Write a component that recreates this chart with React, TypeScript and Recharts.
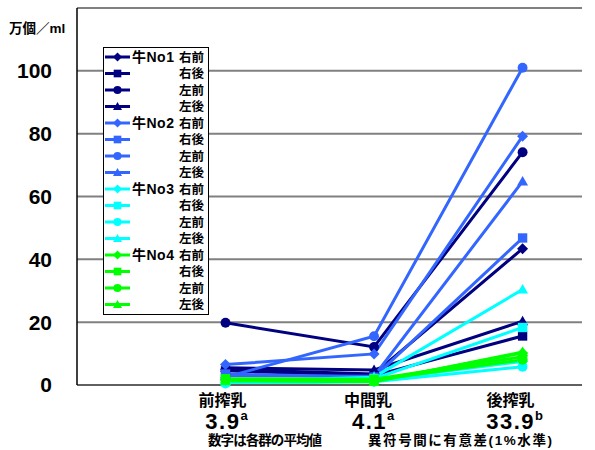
import { LineChart, Line, XAxis, YAxis, CartesianGrid, Legend, Label } from "recharts";

// categories on the x axis, with the group mean and significance letter
const categories = ["前搾乳", "中間乳", "後搾乳"];
const categoryX = [1, 2, 3];
const categoryMeans = ["3.9", "4.1", "33.9"];
const categorySig = ["a", "a", "b"];
const yTicks = [0, 20, 40, 60, 80, 100, 120];

const cows = ["牛No1", "牛No2", "牛No3", "牛No4"];
const quarters = ["右前", "右後", "左前", "左後"];

// 万個/ml, per cow and quarter: 前搾乳, 中間乳, 後搾乳
const no1RightFront = [5.0, 3.5, 43.4];
const no1RightRear = [4.5, 3.0, 15.6];
const no1LeftFront = [19.8, 12.1, 74.1];
const no1LeftRear = [5.5, 4.8, 20.3];
const no2RightFront = [6.5, 9.9, 79.2];
const no2RightRear = [3.5, 2.5, 46.8];
const no2LeftFront = [2.5, 15.5, 101];
const no2LeftRear = [3.0, 2.8, 64.8];
const no3RightFront = [0.8, 1.5, 7.5];
const no3RightRear = [1.0, 2.0, 18.3];
const no3LeftFront = [0.5, 1.0, 5.8];
const no3LeftRear = [1.2, 2.5, 30.4];
const no4RightFront = [1.5, 1.2, 10.2];
const no4RightRear = [2.0, 1.8, 9.0];
const no4LeftFront = [1.8, 1.5, 8.0];
const no4LeftRear = [1.3, 1.0, 10.5];

const seriesValues = [
  [no1RightFront, no1RightRear, no1LeftFront, no1LeftRear],
  [no2RightFront, no2RightRear, no2LeftFront, no2LeftRear],
  [no3RightFront, no3RightRear, no3LeftFront, no3LeftRear],
  [no4RightFront, no4RightRear, no4LeftFront, no4LeftRear],
];

const COW_COLORS = ["#000080", "#3366FF", "#00FFFF", "#00FF00"];
const QUARTER_SHAPES = ["diamond", "square", "circle", "triangle"];
const FONT = "'Liberation Sans', 'Noto Sans CJK JP', sans-serif";

const series = cows.flatMap((cow, c) =>
  quarters.map((q, k) => ({
    key: `s${c}_${k}`,
    cow,
    quarter: q,
    first: k === 0,
    color: COW_COLORS[c],
    shape: QUARTER_SHAPES[k],
    values: seriesValues[c][k],
  }))
);

const data = categoryX.map((x, i) => {
  const row: Record<string, number> = { x };
  series.forEach((s) => (row[s.key] = s.values[i]));
  return row;
});

const Marker = ({ shape, cx, cy, color, s }: any) => {
  if (cx == null || cy == null) return null;
  if (shape === "diamond")
    return <polygon points={`${cx},${cy - s} ${cx + s},${cy} ${cx},${cy + s} ${cx - s},${cy}`} fill={color} />;
  if (shape === "square")
    return <rect x={cx - s * 0.85} y={cy - s * 0.85} width={s * 1.7} height={s * 1.7} fill={color} />;
  if (shape === "circle") return <circle cx={cx} cy={cy} r={s * 0.9} fill={color} />;
  return <polygon points={`${cx},${cy - s} ${cx + s},${cy + s * 0.75} ${cx - s},${cy + s * 0.75}`} fill={color} />;
};

const LABEL_DX = [-3, -6, -12];
const MEAN_DX = [1, -1, -8];

const CategoryTick = ({ x, y, payload }: any) => {
  const i = categoryX.indexOf(payload.value);
  if (i < 0) return null;
  return (
    <g fontFamily={FONT} fill="#000">
      <text x={x + LABEL_DX[i]} y={y + 21} textAnchor="middle" fontSize={16} fontWeight="bold">
        {categories[i]}
      </text>
      <text x={x + MEAN_DX[i]} y={y + 44} textAnchor="middle" fontSize={22} fontWeight="bold" letterSpacing={1.5}>
        {categoryMeans[i]}
        <tspan fontSize={13} dy={-9} letterSpacing={0}>{categorySig[i]}</tspan>
      </text>
    </g>
  );
};

const LegendBox = () => (
  <svg width={106} height={268} style={{ display: "block" }}>
    <rect x={0.5} y={0.5} width={105} height={267} fill="#fff" stroke="#000" />
    {series.map((s, i) => {
      const cy = 10 + i * 16.5;
      return (
        <g key={s.key} fontFamily={FONT} fontWeight="bold" fontSize={12.5} fill="#000">
          <line x1={2} x2={27} y1={cy} y2={cy} stroke={s.color} strokeWidth={3} />
          <Marker shape={s.shape} cx={14.5} cy={cy} color={s.color} s={4.5} />
          {s.first && (
            <text x={29} y={cy + 4.5} fontSize={14} letterSpacing={0.5}>
              {s.cow}
            </text>
          )}
          <text x={101} y={cy + 4.5} textAnchor="end">{s.quarter}</text>
        </g>
      );
    })}
  </svg>
);

export default function App() {
  return (
    <div style={{ position: "absolute", left: 0, top: 0, background: "#fff" }}>
      <LineChart width={595} height={450} data={data} margin={{ top: 8, right: 13, bottom: 0, left: 0 }}>
        <CartesianGrid vertical={false} stroke="#808080" strokeWidth={2} />
        <XAxis
          dataKey="x"
          type="number"
          domain={[0, 3.4]}
          ticks={categoryX}
          tick={<CategoryTick />}
          tickLine={false}
          tickSize={0}
          tickMargin={0}
          height={65}
          axisLine={{ stroke: "#606060", strokeWidth: 2 }}
          interval={0}
        >
          <Label
            content={() => (
              <g fontFamily={FONT} fontWeight="bold" fontSize={13.5} fill="#000">
                <text x={208} y={445} textLength={114} lengthAdjust="spacing">数字は各群の平均値</text>
                <text x={368} y={445} textLength={184} lengthAdjust="spacing">異符号間に有意差(1%水準)</text>
              </g>
            )}
          />
        </XAxis>
        <YAxis
          type="number"
          domain={[0, 120]}
          ticks={yTicks}
          width={77}
          tickLine={false}
          tickSize={0}
          tickMargin={25}
          axisLine={{ stroke: "#000", strokeWidth: 1.5 }}
          tick={{ fill: "#000", fontSize: 21, fontWeight: "bold", fontFamily: FONT }}
          tickFormatter={(v: number) => (v === 120 ? "" : String(v))}
        >
          <Label
            content={() => (
              <text x={9} y={33} fontFamily={FONT} fontWeight="bold" fontSize={13.5} fill="#000">
                万個／ml
              </text>
            )}
          />
        </YAxis>
        <Legend
          layout="vertical"
          align="center"
          verticalAlign="middle"
          content={() => <LegendBox />}
          wrapperStyle={{ position: "absolute", left: 103, top: 47, width: 106, height: 268 }}
        />
        {series.map((s) => (
          <Line
            key={s.key}
            dataKey={s.key}
            name={`${s.cow} ${s.quarter}`}
            stroke={s.color}
            strokeWidth={3}
            isAnimationActive={false}
            dot={(p: any) => (
              <Marker key={`${s.key}-${p.index}`} shape={s.shape} cx={p.cx} cy={p.cy} color={s.color} s={5.5} />
            )}
            activeDot={false}
          />
        ))}
      </LineChart>
    </div>
  );
}
